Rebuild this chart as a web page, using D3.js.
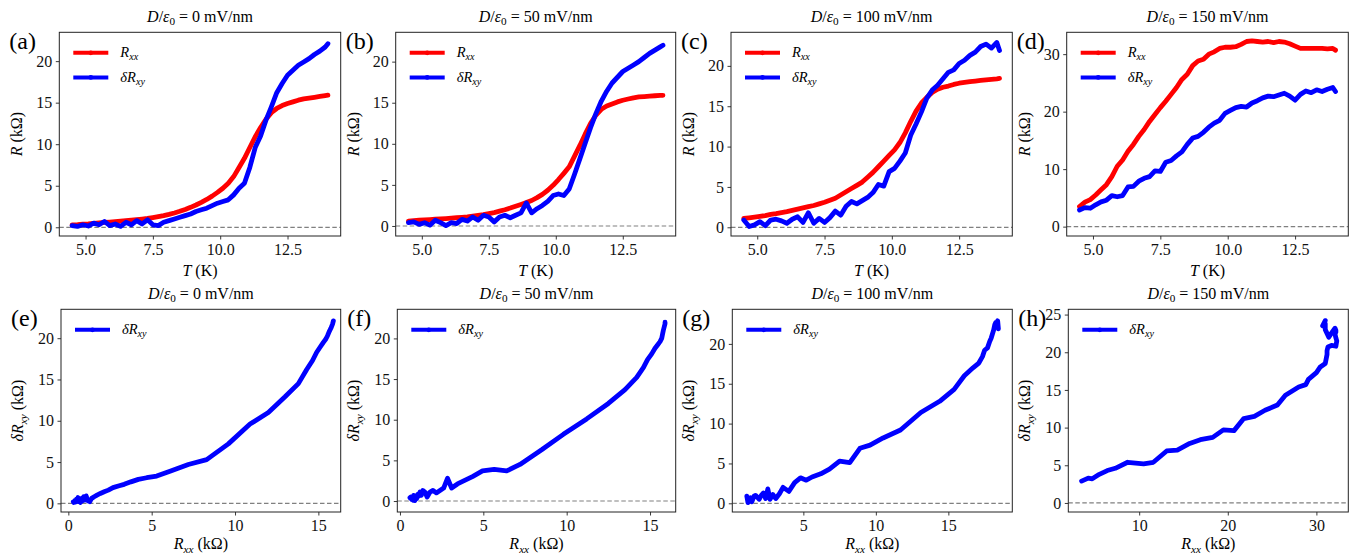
<!DOCTYPE html>
<html><head><meta charset="utf-8">
<script src="https://cdn.jsdelivr.net/npm/d3@7"></script>
<style>body{margin:0;background:#fff} svg text{white-space:pre}</style>
</head><body><svg id="c" width="1353" height="556"></svg>
<script>
// ---------------- DATA ----------------
const T = [4.5,4.7,4.9,5.1,5.3,5.5,5.7,5.9,6.1,6.3,6.5,6.7,6.9,7.1,7.3,7.5,7.7,7.9,8.1,8.3,8.5,8.7,8.9,9.1,9.3,9.5,9.7,9.9,10.1,10.3,10.5,10.7,10.9,11.1,11.3,11.5,11.7,11.9,12.1,12.3,12.5,12.7,12.9,13.1,13.3,13.5,13.7,13.9,14.0];

const fields = [0, 50, 100, 150];

const Rxx_0   = [0.30,0.33,0.38,0.42,0.48,0.53,0.58,0.63,0.68,0.73,0.79,0.85,0.92,0.99,1.07,1.17,1.28,1.40,1.55,1.72,1.92,2.15,2.40,2.68,3.00,3.35,3.75,4.20,4.70,5.30,6.10,7.20,8.30,9.60,10.90,12.00,13.00,13.80,14.30,14.65,14.90,15.10,15.30,15.45,15.55,15.65,15.75,15.85,15.90];
const dRxy_0  = [0.2,0.1,0.3,0.15,0.5,0.3,0.7,0.2,0.4,0.1,0.6,0.3,0.8,0.4,0.9,0.3,0.2,0.6,0.8,1.0,1.2,1.4,1.6,1.9,2.1,2.3,2.6,2.9,3.1,3.3,3.9,4.7,5.3,7.2,9.6,11.0,12.9,14.5,16.2,17.3,18.3,18.9,19.5,19.9,20.3,20.8,21.2,21.7,22.1];

const Rxx_50  = [0.60,0.65,0.70,0.74,0.78,0.82,0.86,0.90,0.95,1.00,1.06,1.12,1.20,1.28,1.37,1.50,1.63,1.80,1.98,2.18,2.40,2.62,2.85,3.10,3.45,3.85,4.35,4.95,5.65,6.40,7.20,8.50,9.80,11.20,12.50,13.50,14.20,14.60,14.85,15.10,15.30,15.45,15.60,15.70,15.75,15.80,15.85,15.90,15.90];
const dRxy_50 = [0.4,0.5,0.2,0.4,0.1,0.7,0.4,0.05,0.4,0.3,0.8,0.6,1.1,0.7,1.3,1.1,0.5,1.1,1.3,1.0,1.3,1.6,2.8,1.6,2.1,2.5,3.0,3.7,3.9,3.7,4.5,6.3,8.2,10.1,12.0,13.7,15.2,16.4,17.4,18.1,18.8,19.2,19.6,20.0,20.5,21.0,21.4,21.8,22.0];

const Rxx_100  = [1.10,1.18,1.26,1.35,1.45,1.60,1.70,1.82,1.95,2.10,2.25,2.40,2.55,2.70,2.90,3.10,3.35,3.60,4.00,4.40,4.80,5.20,5.60,6.20,6.80,7.50,8.20,8.90,9.60,10.50,11.70,13.10,14.40,15.40,16.10,16.70,17.10,17.35,17.50,17.70,17.85,17.95,18.05,18.12,18.20,18.27,18.33,18.40,18.45];
const dRxy_100 = [0.9,0.1,0.3,0.7,0.2,0.9,1.0,0.8,0.5,1.0,1.3,0.6,1.8,0.5,1.1,0.6,1.2,2.0,1.5,2.6,3.2,2.9,3.3,3.7,4.3,5.3,5.1,6.9,7.3,8.2,9.2,11.4,12.8,14.3,16.0,17.0,17.6,18.4,19.2,19.5,20.3,20.7,21.3,21.7,22.4,22.7,22.2,22.9,21.9];

const Rxx_150  = [3.5,4.25,4.7,5.5,6.4,7.3,8.7,10.5,11.6,13.1,14.3,15.7,16.9,18.3,19.5,20.7,21.8,23.0,24.2,25.6,26.5,28.0,28.8,29.1,30.0,30.4,31.0,31.2,31.2,31.3,31.7,32.2,32.3,32.2,32.1,32.2,32.0,32.2,32.1,31.8,31.4,31.0,31.0,31.0,31.0,31.0,30.9,31.0,30.7];
const dRxy_150 = [2.9,3.3,3.2,3.8,4.3,4.6,5.4,5.2,5.4,6.9,7.0,7.9,8.4,8.7,9.7,9.6,11.2,11.5,12.3,13.0,14.3,15.4,15.7,16.4,17.3,18.0,18.5,19.7,20.2,20.7,20.9,20.8,21.5,21.9,22.4,22.7,22.6,22.9,23.2,22.7,22.0,23.0,23.6,23.3,23.8,23.5,23.9,24.2,23.5];

const RxxSets  = [Rxx_0, Rxx_50, Rxx_100, Rxx_150];
const dRxySets = [dRxy_0, dRxy_50, dRxy_100, dRxy_150];

const xTicksTop    = [5.0, 7.5, 10.0, 12.5];
const yTicksTop    = [[0,5,10,15,20],[0,5,10,15,20],[0,5,10,15,20],[0,10,20,30]];
const xTicksBottom = [[0,5,10,15],[0,5,10,15],[5,10,15],[10,20,30]];
const yTicksBottom = [[0,5,10,15,20],[0,5,10,15,20],[0,5,10,15,20],[0,5,10,15,20,25]];
const lettersTop = ["a","b","c","d"];
const lettersBottom = ["e","f","g","h"];

// ---------------- LAYOUT ----------------
const FONT = "Liberation Serif";
const RED = "#ff0000", BLUE = "#0000ff";
const rowTop = [32.3, 236], rowBot = [309.3, 512];
const colsTop = [[59.3,340.7],[395.7,675.7],[731,1012.3],[1066.7,1348.3]];
const colsBot = [[61,340.7],[397.3,675.7],[732.3,1012.3],[1068.3,1348.3]];
const xDomTop = [4.025, 14.475];
const yDomTop = [[-1.05,23.47],[-1.22,23.57],[-1.08,24.16],[-1.63,33.8]];
const xDomBot = [[-0.44,16.34],[-0.16,16.54],[0.1,19.41],[2.0,33.6]];
const yDomBot = [[-1.05,23.5],[-1.35,23.58],[-1.09,24.34],[-1.2,25.7]];

const svg = d3.select("#c");

function mathText(parent, parts, fs) {
  const t = parent.append("text").attr("font-family", FONT).attr("font-size", fs).attr("fill", "#000");
  let cur = 0;
  parts.forEach(([s, st]) => {
    const sub = st[0] === "s";
    const ital = st.endsWith("i");
    const target = sub ? fs * 0.22 : 0;
    const ts = t.append("tspan").text(s).attr("font-style", ital ? "italic" : "normal");
    if (sub) ts.attr("font-size", fs * 0.7);
    if (target !== cur) { ts.attr("dy", target - cur); cur = target; }
  });
  return t;
}

function panel(o) {
  const [x0, x1] = o.cols, [y0, y1] = o.rows;
  const x = d3.scaleLinear().domain(o.xDom).range([x0, x1]);
  const y = d3.scaleLinear().domain(o.yDom).range([y1, y0]);
  const g = svg.append("g");
  const cid = "clip" + o.id;
  svg.append("clipPath").attr("id", cid).append("rect")
    .attr("x", x0).attr("y", y0).attr("width", x1 - x0).attr("height", y1 - y0);
  const plot = g.append("g").attr("clip-path", `url(#${cid})`);
  plot.append("line").attr("x1", x0).attr("x2", x1).attr("y1", y(0)).attr("y2", y(0))
    .attr("stroke", "#808080").attr("stroke-width", 1.2).attr("stroke-dasharray", "4.5,2.5");
  o.series.forEach(s => {
    const pts = s.xs.map((v, i) => [v, s.ys[i]]);
    plot.append("path").datum(pts)
      .attr("d", d3.line().x(d => x(d[0])).y(d => y(d[1])))
      .attr("fill", "none").attr("stroke", s.color).attr("stroke-width", 4.8)
      .attr("stroke-linejoin", "round").attr("stroke-linecap", "round");
  });
  const ax = g.append("g").attr("transform", `translate(0,${y1})`)
    .call(d3.axisBottom(x).tickValues(o.xTicks).tickFormat(o.xFmt).tickSize(3.5).tickPadding(4.5).tickSizeOuter(0));
  const ay = g.append("g").attr("transform", `translate(${x0},0)`)
    .call(d3.axisLeft(y).tickValues(o.yTicks).tickFormat(d3.format("d")).tickSize(3.5).tickPadding(3.5).tickSizeOuter(0));
  [ax, ay].forEach(a => {
    a.select(".domain").remove();
    a.attr("font-family", FONT).attr("font-size", 16);
    a.selectAll("line").attr("stroke", "#222").attr("stroke-width", 0.9);
    a.selectAll("text").attr("fill", "#111");
  });
  g.append("rect").attr("x", x0).attr("y", y0).attr("width", x1 - x0).attr("height", y1 - y0)
    .attr("fill", "none").attr("stroke", "#222").attr("stroke-width", 1);
  const cx = (x0 + x1) / 2;
  mathText(g, [["D","i"],["/","n"],["ε","i"],["0","sn"],[" = ","n"],[o.field + " mV/nm","n"]], 16)
    .attr("x", cx).attr("y", y0 - 10.5).attr("text-anchor", "middle");
  mathText(g, o.xLabel, 16).attr("x", cx).attr("y", y1 + o.xLabOff).attr("text-anchor", "middle");
  mathText(g, o.yLabel, 16).attr("text-anchor", "middle")
    .attr("transform", `translate(${x0 - o.yLabOff},${(y0 + y1) / 2}) rotate(-90)`);
  g.append("text").attr("x", x0 - 50).attr("y", y0 + 17).attr("font-family", FONT)
    .attr("font-size", 24).text("(" + o.letter + ")");
  o.series.forEach((s, i) => {
    const ly = y0 + 20.5 + i * 24.6;
    g.append("line").attr("x1", x0 + 14).attr("x2", x0 + 49).attr("y1", ly).attr("y2", ly)
      .attr("stroke", s.color).attr("stroke-width", 4);
    g.append("circle").attr("cx", x0 + 31.5).attr("cy", ly).attr("r", 2.4).attr("fill", s.color);
    mathText(g, s.label, 14.5).attr("x", x0 + 61).attr("y", ly + 4.5);
  });
}

const labRxx = [["R","i"],["xx","si"]];
const labdRxy = [["δR","i"],["xy","si"]];

fields.forEach((f, k) => {
  panel({
    id: "t" + k, cols: colsTop[k], rows: rowTop, xDom: xDomTop, yDom: yDomTop[k],
    xTicks: xTicksTop, xFmt: d3.format(".1f"), yTicks: yTicksTop[k], field: f,
    xLabel: [["T","i"],[" (K)","n"]], yLabel: [["R","i"],[" (kΩ)","n"]], yLabOff: 37, xLabOff: 40,
    letter: lettersTop[k],
    series: [
      {xs: T, ys: RxxSets[k], color: RED, label: labRxx},
      {xs: T, ys: dRxySets[k], color: BLUE, label: labdRxy}
    ]
  });
  panel({
    id: "b" + k, cols: colsBot[k], rows: rowBot, xDom: xDomBot[k], yDom: yDomBot[k],
    xTicks: xTicksBottom[k], xFmt: d3.format("d"), yTicks: yTicksBottom[k], field: f,
    xLabel: [["R","i"],["xx","si"],[" (kΩ)","n"]], yLabel: [["δR","i"],["xy","si"],[" (kΩ)","n"]], yLabOff: 38, xLabOff: 37,
    letter: lettersBottom[k],
    series: [
      {xs: RxxSets[k], ys: dRxySets[k], color: BLUE, label: labdRxy}
    ]
  });
});
</script>
</body></html>
